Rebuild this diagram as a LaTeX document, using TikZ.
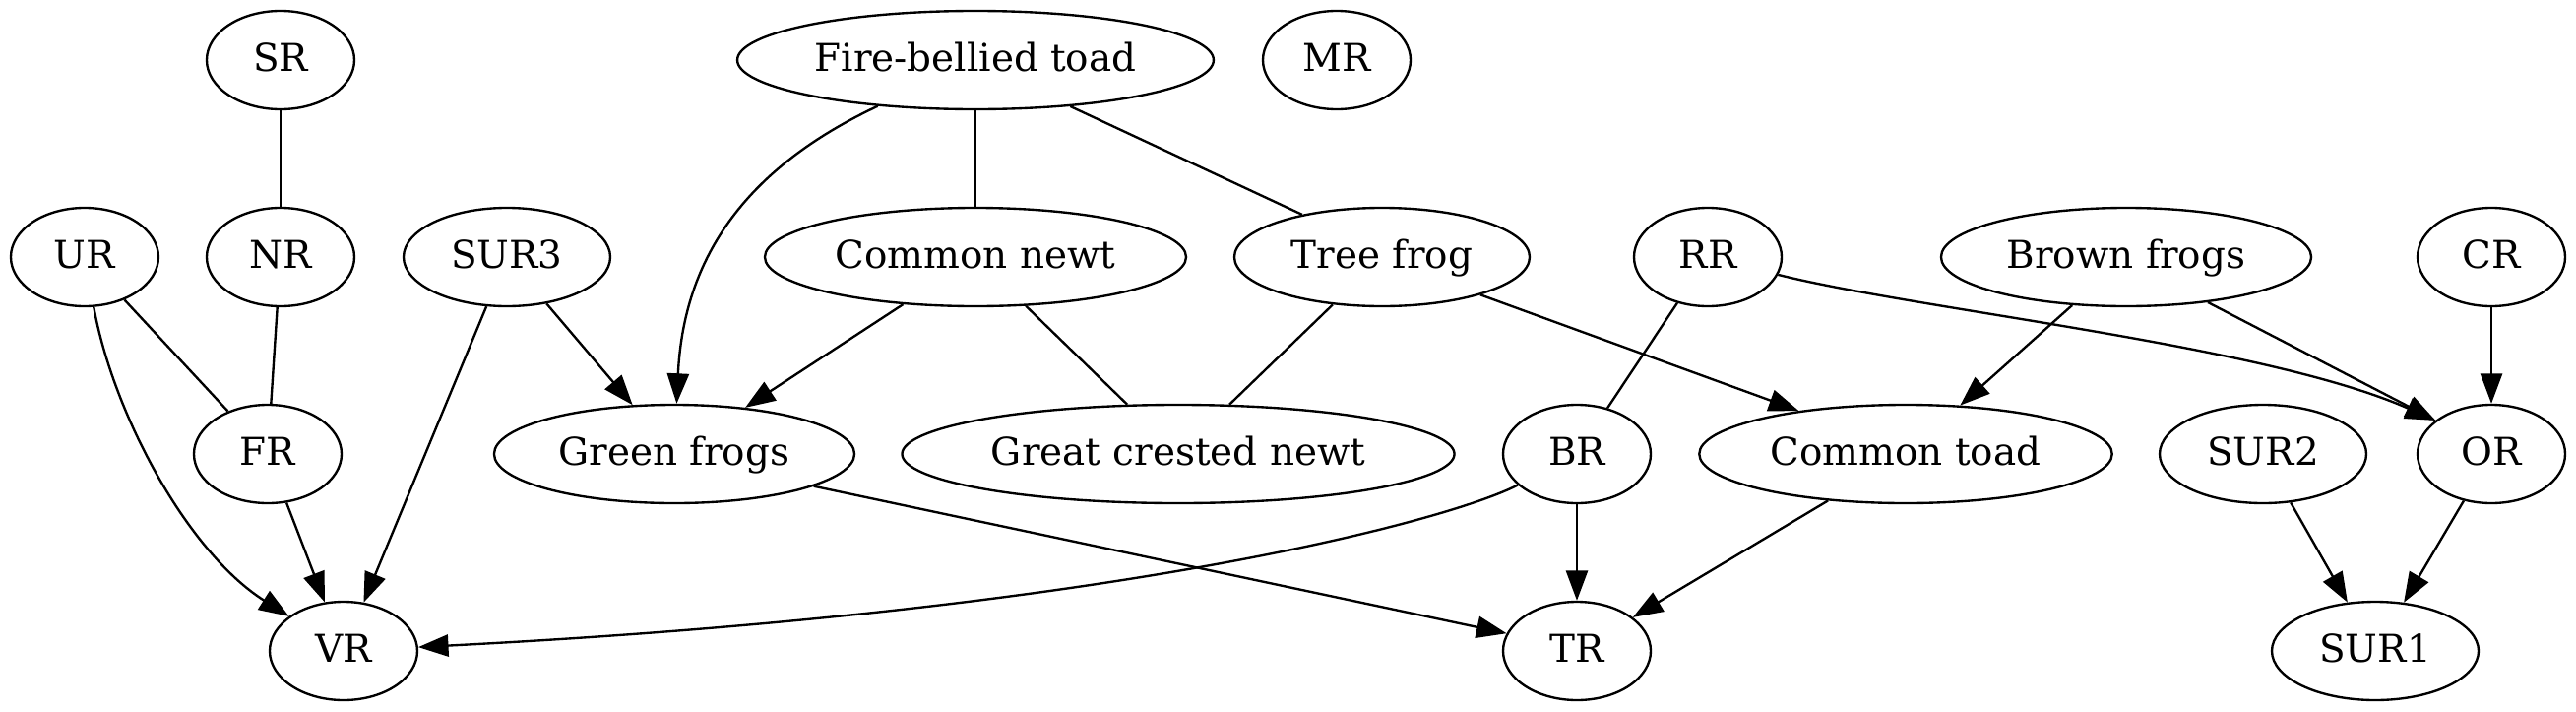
\documentclass[tikz,border=0pt]{standalone}
\usepackage{fontspec}
\setmainfont{DejaVu Serif}
\usetikzlibrary{shapes.geometric,arrows.meta}
\tikzset{
  nd/.style={draw, ellipse, line width=0.85pt, inner sep=0pt,
    minimum height=36pt, minimum width=54pt,
    font=\fontsize{14}{16}\selectfont, text height=9pt, text depth=0.8pt},
  ln/.style={line width=0.85pt},
  arr/.style={line width=0.85pt, -{Triangle[length=11pt,width=8pt]}},
}
\begin{document}
\begin{tikzpicture}[x=0.36pt, y=-0.36pt]
\useasboundingbox (0,0) rectangle (2617,722);
% row 0
\node[nd] (SR) at (285,61) {SR};
\node[nd, minimum width=174.2pt] (FBT) at (991,61) {Fire-bellied toad};
\node[nd] (MR) at (1358,61) {MR};
% row 1
\node[nd] (UR) at (86,261) {UR};
\node[nd] (NR) at (285,261) {NR};
\node[nd, minimum width=75.6pt] (SUR3) at (515,261) {SUR3};
\node[nd, minimum width=154.1pt] (CN) at (991,261) {Common newt};
\node[nd, minimum width=108pt] (TF) at (1404,261) {Tree frog};
\node[nd] (RR) at (1735,261) {RR};
\node[nd, minimum width=135.4pt] (BF) at (2160,261) {Brown frogs};
\node[nd] (CR) at (2531,261) {CR};
% row 2
\node[nd] (FR) at (272,461) {FR};
\node[nd, minimum width=131.8pt] (GF) at (685,461) {Green frogs};
\node[nd, minimum width=202pt] (GCN) at (1197,461) {Great crested newt};
\node[nd] (BR) at (1602,461) {BR};
\node[nd, minimum width=151pt] (CT) at (1936,461) {Common toad};
\node[nd, minimum width=75.6pt] (SUR2) at (2299,461) {SUR2};
\node[nd] (OR) at (2531,461) {OR};
% row 3
\node[nd] (VR) at (349,661) {VR};
\node[nd] (TR) at (1602,661) {TR};
\node[nd, minimum width=75.6pt] (SUR1) at (2413,661) {SUR1};
% undirected
\draw[ln] (SR) -- (NR);
\draw[ln] (NR) -- (FR);
\draw[ln] (UR) -- (FR);
\draw[ln] (FBT) -- (CN);
\draw[ln] (FBT.-26.2) -- (TF.152.4);
\draw[ln] (CN) -- (GCN);
\draw[ln] (TF) -- (GCN);
\draw[ln] (RR) -- (BR);
% directed
\draw[arr] (UR) .. controls (115,420) and (190,560) .. (VR);
\draw[arr] (FR) -- (VR);
\draw[arr] (SUR3) -- (VR);
\draw[arr] (SUR3) -- (GF);
\draw[arr] (FBT) .. controls (770,165) and (695,250) .. (GF);
\draw[arr] (CN) -- (GF);
\draw[arr] (TF.-21) -- (CT.158.7);
\draw[arr] (GF.-13.8) -- (TR.166.6);
\draw[arr] (BR) .. controls (1480,525) and (1150,620) .. (VR);
\draw[arr] (BR) -- (TR);
\draw[arr] (RR) .. controls (1950,315) and (2300,350) .. (OR.149.6);
\draw[arr] (BF) -- (CT);
\draw[arr] (BF.-29) -- (OR.149.6);
\draw[arr] (CR) -- (OR);
\draw[arr] (CT.211.8) -- (TR.31.6);
\draw[arr] (SUR2) -- (SUR1);
\draw[arr] (OR) -- (SUR1);
\end{tikzpicture}
\end{document}
